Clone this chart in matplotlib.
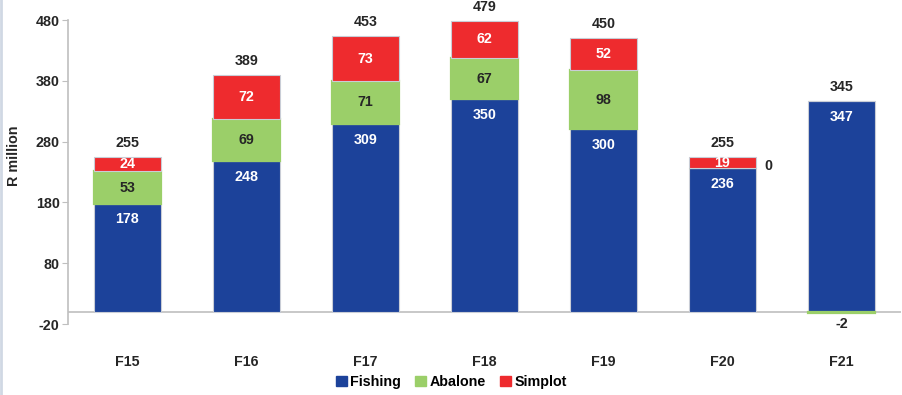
import matplotlib
matplotlib.use("Agg")
import matplotlib.pyplot as plt
from matplotlib.lines import Line2D
from matplotlib.patches import Patch

plt.rcParams['font.family'] = ['Liberation Sans', 'DejaVu Sans']
plt.rcParams['font.weight'] = 'bold'

years = ["F15", "F16", "F17", "F18", "F19", "F20", "F21"]
fishing = [178, 248, 309, 350, 300, 236, 347]
abalone = [53, 69, 71, 67, 98, 0, -2]
simplot = [24, 72, 73, 62, 52, 19, 0]
totals = [255, 389, 453, 479, 450, 255, 345]
yticks = [-20, 80, 180, 280, 380, 480]

c_fish = "#1c429a"
c_abal = "#9bcf69"
c_simp = "#ee2b2e"
txt = "#262626"

fig = plt.figure(figsize=(9.03, 3.95), dpi=100)
ax = fig.add_axes([68 / 903, 1 - 324 / 395, 833 / 903, 304 / 395])

x = list(range(len(years)))
w = 0.57
edge = "#c9cdd6"

ax.bar(x, fishing, w, color=c_fish, edgecolor=edge, linewidth=0.8, zorder=3)
ab_bottom = [f if a >= 0 else 0 for f, a in zip(fishing, abalone)]
ax.bar(x, abalone, w, bottom=ab_bottom, color=c_abal, edgecolor=c_abal,
       linewidth=1.6, zorder=3)
simp_bottom = [f + max(a, 0) for f, a in zip(fishing, abalone)]
ax.bar(x, simplot, w, bottom=simp_bottom, color=c_simp, edgecolor=edge,
       linewidth=0.8, zorder=3)

fs = 10.3
for i in x:
    # fishing label near the top of its segment
    ax.text(i, fishing[i] - 26, str(fishing[i]), ha="center", va="center",
            color="white", fontsize=fs, fontweight="bold", zorder=5)
    # abalone label
    a = abalone[i]
    if a > 0:
        ax.text(i, fishing[i] + a / 2, str(a), ha="center", va="center",
                color=txt, fontsize=fs, fontweight="bold", zorder=5)
    elif a == 0:
        ax.text(i + w / 2 + 0.07, fishing[i] + 4, str(a), ha="left", va="center",
                color=txt, fontsize=fs, fontweight="bold", zorder=5)
    else:
        ax.text(i, a - 6, str(a), ha="center", va="top",
                color=txt, fontsize=fs, fontweight="bold", zorder=5)
    # simplot label
    s = simplot[i]
    if s > 0:
        ax.text(i, simp_bottom[i] + s / 2, str(s), ha="center", va="center",
                color="white", fontsize=fs, fontweight="bold", zorder=5)
    # total above bar
    top = fishing[i] + max(abalone[i], 0) + simplot[i]
    ax.text(i, top + 23, str(totals[i]), ha="center", va="center",
            color=txt, fontsize=fs, fontweight="bold", zorder=5)

ax.set_xlim(-0.5, 6.5)
ax.set_ylim(-20, 480)
ax.set_yticks(yticks)
ax.set_yticklabels([str(v) for v in yticks], fontsize=fs, fontweight="bold", color=txt)
ax.set_xticks(x)
ax.set_xticklabels(years, fontsize=fs, fontweight="bold", color=txt)
ax.tick_params(axis="x", length=0, pad=22)
ax.tick_params(axis="y", length=4, color="#bfbfbf", direction="out", pad=2)

for side in ["top", "right", "bottom"]:
    ax.spines[side].set_visible(False)
ax.spines["left"].set_color("#bfbfbf")
ax.spines["left"].set_linewidth(1.2)
ax.axhline(0, color="#bfbfbf", linewidth=1.2, zorder=2)

ax.set_ylabel("R million", fontsize=fs, fontweight="bold", color=txt)
ax.yaxis.set_label_coords(-47 / 833, 0.555)

handles = [Patch(facecolor=c_fish, edgecolor=c_fish),
           Patch(facecolor=c_abal, edgecolor=c_abal),
           Patch(facecolor=c_simp, edgecolor=c_simp)]
fig.legend(handles, ["Fishing", "Abalone", "Simplot"], loc="center",
           bbox_to_anchor=(0.5, 1 - 382 / 395), ncol=3, frameon=False,
           handlelength=0.75, handleheight=0.75,
           handletextpad=0.25, columnspacing=1.0,
           prop={"weight": "bold", "size": fs})

# thin frame line on the left edge
fig.add_artist(Line2D([0.0015, 0.0015], [0, 1], transform=fig.transFigure,
                      color="#d0d8e4", linewidth=2))

fig.savefig("out.png", dpi=100)
